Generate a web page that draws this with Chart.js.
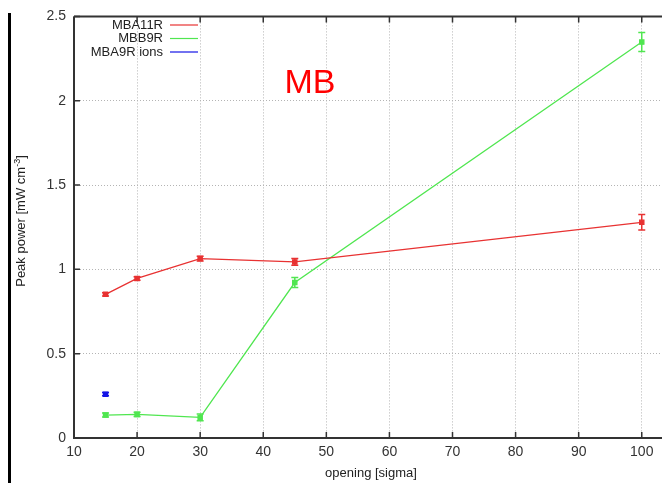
<!DOCTYPE html>
<html>
<head>
<meta charset="utf-8">
<script src="https://cdn.jsdelivr.net/npm/chart.js@4.4.1/dist/chart.umd.min.js"></script>
<style>
  html, body { margin: 0; padding: 0; background: #fff; }
  body { width: 662px; height: 483px; overflow: hidden; position: relative; font-family: "Liberation Sans", Arial, sans-serif; }
  #wrap { position: absolute; left: 0; top: 0; width: 722px; height: 483px; }
  #leftBar { position: absolute; left: 8px; top: 13px; width: 2.5px; height: 470px; background: #000; }
  #yTitle { position: absolute; left: 20px; top: 221px; transform: translate(-50%, -50%) rotate(-90deg); white-space: nowrap; font-size: 13px; color: #222; }
  #yTitle sup { font-size: 9px; }
  #xTitle { position: absolute; left: 371px; top: 472px; transform: translate(-50%, -50%); white-space: nowrap; font-size: 13px; color: #222; }
  #mbLabel { position: absolute; left: 310px; top: 81px; transform: translate(-50%, -50%); font-size: 34px; color: #ff0000; }
</style>
</head>
<body>
<div id="wrap"><canvas id="graphique" width="722" height="483"></canvas></div>
<div id="leftBar"></div>
<div id="yTitle">Peak power [mW cm<sup>-3</sup>]</div>
<div id="xTitle">opening [sigma]</div>
<div id="mbLabel">MB</div>
<script>
//-------------------------------------Données-------------------------------------
const ouvertures = [15, 20, 30, 45, 100];
const mba11r = [0.852, 0.946, 1.064, 1.044, 1.279];
const mba11rErr = [0.01, 0.01, 0.014, 0.02, 0.046];
const mbb9r = [0.136, 0.14, 0.122, 0.922, 2.348];
const mbb9rErr = [0.012, 0.012, 0.02, 0.03, 0.056];
const ionsX = [15];
const ionsY = [0.26];
const ionsErr = [0.01];
const xTicks = [10, 20, 30, 40, 50, 60, 70, 80, 90, 100, 110];
const yTicks = [0, 0.5, 1, 1.5, 2, 2.5];

function points(xs, ys) {
  return xs.map((x, i) => ({ x: x, y: ys[i] }));
}

//-------------------------------------Plugins maison-------------------------------------
// barres d'erreur façon gnuplot
const errorBars = {
  id: 'errorBars',
  afterDatasetsDraw(chart) {
    const ctx = chart.ctx;
    const xs = chart.scales.x, ys = chart.scales.y;
    chart.data.datasets.forEach(ds => {
      if (!ds.errors) return;
      ctx.save();
      ctx.strokeStyle = ds.borderColor;
      ctx.lineWidth = 1.5;
      ds.data.forEach((p, i) => {
        const px = xs.getPixelForValue(p.x);
        const top = ys.getPixelForValue(p.y + ds.errors[i]);
        const bot = ys.getPixelForValue(p.y - ds.errors[i]);
        ctx.beginPath();
        ctx.moveTo(px, top); ctx.lineTo(px, bot);
        ctx.moveTo(px - 3.5, top); ctx.lineTo(px + 3.5, top);
        ctx.moveTo(px - 3.5, bot); ctx.lineTo(px + 3.5, bot);
        ctx.stroke();
      });
      ctx.restore();
    });
  }
};

// cadre, graduations vers l'intérieur et légende
const cadre = {
  id: 'cadre',
  afterDraw(chart) {
    const ctx = chart.ctx;
    const a = chart.chartArea;
    const xs = chart.scales.x, ys = chart.scales.y;
    ctx.save();
    ctx.strokeStyle = '#333';
    ctx.lineWidth = 2;
    ctx.beginPath();
    ctx.moveTo(a.left, a.top); ctx.lineTo(a.right, a.top);
    ctx.moveTo(a.left, a.top); ctx.lineTo(a.left, a.bottom);
    ctx.lineTo(a.right, a.bottom);
    ctx.stroke();
    ctx.lineWidth = 1.5;
    ctx.beginPath();
    xTicks.forEach(v => {
      const px = xs.getPixelForValue(v);
      ctx.moveTo(px, a.bottom); ctx.lineTo(px, a.bottom - 6);
      ctx.moveTo(px, a.top); ctx.lineTo(px, a.top + 6);
    });
    yTicks.forEach(v => {
      const py = ys.getPixelForValue(v);
      ctx.moveTo(a.left, py); ctx.lineTo(a.left + 6, py);
    });
    ctx.stroke();

    // légende
    ctx.font = '13px "Liberation Sans", Arial, sans-serif';
    ctx.textAlign = 'right';
    ctx.textBaseline = 'middle';
    chart.data.datasets.forEach((ds, i) => {
      const y = 25 + i * 13.5;
      ctx.fillStyle = '#222';
      ctx.fillText(ds.label, 163, y);
      ctx.strokeStyle = ds.borderColor;
      ctx.lineWidth = 1.2;
      ctx.beginPath();
      ctx.moveTo(170, y); ctx.lineTo(198, y);
      ctx.stroke();
    });
    ctx.restore();
  }
};

//-------------------------------------Graphique-------------------------------------
const ctx = document.getElementById('graphique').getContext('2d');
const chart = new Chart(ctx, {
  type: 'line',
  data: {
    datasets: [
      {
        label: 'MBA11R',
        data: points(ouvertures, mba11r),
        errors: mba11rErr,
        borderColor: 'rgb(232, 50, 50)',
        backgroundColor: 'rgb(232, 50, 50)',
        borderWidth: 1.3,
        pointStyle: 'rect',
        pointRadius: 3,
        tension: 0
      },
      {
        label: 'MBB9R',
        data: points(ouvertures, mbb9r),
        errors: mbb9rErr,
        borderColor: 'rgb(80, 230, 80)',
        backgroundColor: 'rgb(80, 230, 80)',
        borderWidth: 1.3,
        pointStyle: 'rect',
        pointRadius: 3,
        tension: 0
      },
      {
        label: 'MBA9R ions',
        data: points(ionsX, ionsY),
        errors: ionsErr,
        borderColor: 'rgb(20, 20, 230)',
        backgroundColor: 'rgb(20, 20, 230)',
        borderWidth: 1.3,
        pointStyle: 'rect',
        pointRadius: 3,
        showLine: false
      }
    ]
  },
  options: {
    responsive: false,
    animation: false,
    devicePixelRatio: 1,
    layout: { padding: { top: 12, right: 10, left: 0, bottom: 0 } },
    plugins: { legend: { display: false }, tooltip: { enabled: false } },
    scales: {
      x: {
        type: 'linear',
        min: 10,
        max: 110,
        afterBuildTicks: s => { s.ticks = xTicks.map(v => ({ value: v })); },
        afterFit: s => { s.height = 45; },
        grid: { color: '#b4b4b4', lineWidth: 1, drawTicks: false },
        border: { display: false, dash: [1, 2] },
        ticks: {
          padding: 6,
          color: '#333',
          autoSkip: false,
          maxRotation: 0,
          callback: v => String(v),
          font: { family: '"Liberation Sans", Arial, sans-serif', size: 14 }
        }
      },
      y: {
        min: 0,
        max: 2.5,
        afterBuildTicks: s => { s.ticks = yTicks.map(v => ({ value: v })); },
        afterFit: s => { s.width = 74; },
        grid: { color: '#b4b4b4', lineWidth: 1, drawTicks: false },
        border: { display: false, dash: [1, 2] },
        ticks: {
          padding: 8,
          color: '#333',
          autoSkip: false,
          callback: v => String(v),
          font: { family: '"Liberation Sans", Arial, sans-serif', size: 14 }
        }
      }
    }
  },
  plugins: [errorBars, cadre]
});
</script>
</body>
</html>
